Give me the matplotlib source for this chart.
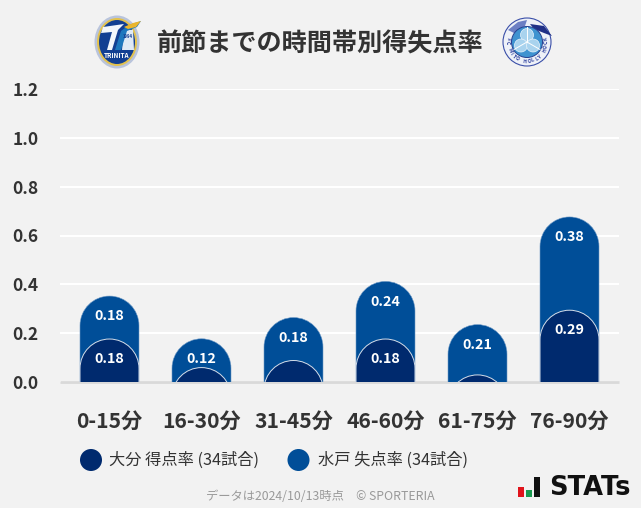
import numpy as np
import matplotlib
matplotlib.use("Agg")
import matplotlib.pyplot as plt
from matplotlib.path import Path
from matplotlib.patches import PathPatch, Circle, Ellipse, Rectangle, Polygon

plt.rcParams['font.family'] = ['Noto Sans CJK JP', 'DejaVu Sans']

# values
periods = ['0-15分', '16-30分', '31-45分', '46-60分', '61-75分', '76-90分']
oita_scored = [0.176, 0.059, 0.088, 0.176, 0.029, 0.294]
mito_conceded = [0.176, 0.118, 0.176, 0.236, 0.206, 0.382]
y_ticks = [0.0, 0.2, 0.4, 0.6, 0.8, 1.0, 1.2]

BG = '#f2f2f2'
DARK = '#002a6e'
BLUE = '#004e98'
W, H = 641, 508


def capsule(x, top, half, ry):
    # bar with a round head, runs below the baseline so the axes clip it
    k = 0.5523
    verts = [(x - half, -0.5), (x - half, top - ry),
             (x - half, top - ry + k * ry), (x - k * half, top), (x, top),
             (x + k * half, top), (x + half, top - ry + k * ry), (x + half, top - ry),
             (x + half, -0.5), (x - half, -0.5)]
    codes = [Path.MOVETO, Path.LINETO,
             Path.CURVE4, Path.CURVE4, Path.CURVE4,
             Path.CURVE4, Path.CURVE4, Path.CURVE4,
             Path.LINETO, Path.CLOSEPOLY]
    return Path(verts, codes)


fig = plt.figure(figsize=(W / 100, H / 100), dpi=100, facecolor=BG)
ax = fig.add_axes([60 / W, 1 - 382 / H, 559 / W, 293 / H], facecolor=BG)
ax.set_xlim(-0.538, 5.538)
ax.set_ylim(0, 1.2)
for s in ax.spines.values():
    s.set_visible(False)
ax.set_axisbelow(True)
ax.grid(axis='y', color='white', lw=1.5)
ax.axhline(0, color='#d9d9d9', lw=2, clip_on=False, zorder=1.5, solid_capstyle='butt')
ax.set_yticks(y_ticks)
ax.set_yticklabels([f'{v:.1f}' for v in y_ticks], fontsize=12.5, fontweight='bold', color='#333333')
ax.set_xticks(range(len(periods)))
ax.set_xticklabels(periods, fontsize=15.2, fontweight='bold', color='#333333')
ax.tick_params(axis='both', length=0)
ax.tick_params(axis='y', pad=15.5)
ax.tick_params(axis='x', pad=20.5)

half = 29.5 / 92
ry = 29.5 * 1.2 / 293
for i in range(len(periods)):
    total = oita_scored[i] + mito_conceded[i]
    ax.add_patch(PathPatch(capsule(i, total, half, ry), fc=BLUE, ec='#6f9ac6', lw=0.4, zorder=3))
    ax.add_patch(PathPatch(capsule(i, oita_scored[i], half, ry), fc=DARK, ec='#d5deea', lw=0.7, zorder=4))
    ax.annotate(f'{mito_conceded[i]:.2f}', (i, total), xytext=(0, -14.5), textcoords='offset points',
                ha='center', va='center', color='white', fontsize=10.3, fontweight='bold', zorder=5)
    if oita_scored[i] >= 0.1:
        ax.annotate(f'{oita_scored[i]:.2f}', (i, oita_scored[i]), xytext=(0, -14.5), textcoords='offset points',
                    ha='center', va='center', color='white', fontsize=10.3, fontweight='bold', zorder=5)

# everything outside the plot, placed in pixels
deco = fig.add_axes([0, 0, 1, 1], facecolor='none')
deco.set_xlim(0, W)
deco.set_ylim(H, 0)
deco.axis('off')

deco.text(320.5, 43.5, '前節までの時間帯別得失点率', ha='center', va='center',
          fontsize=18.1, fontweight='bold', color='#333333')

# legend
deco.add_patch(Circle((91, 460), 11, fc=DARK, ec='none'))
deco.text(109, 460.5, '大分 得点率 (34試合)', ha='left', va='center', fontsize=11.7, color='#333333')
deco.add_patch(Circle((298.5, 460), 11, fc=BLUE, ec='none'))
deco.text(318, 460.5, '水戸 失点率 (34試合)', ha='left', va='center', fontsize=11.7, color='#333333')

deco.text(320.5, 497, 'データは2024/10/13時点　© SPORTERIA', ha='center', va='center',
          fontsize=8.85, color='#999999')

# Oita crest
deco.add_patch(Ellipse((117, 42), 45, 53, fc='#b9c4dc', ec='none'))
deco.add_patch(Ellipse((117, 42), 40, 48, fc='#e3c24e', ec='none'))
deco.add_patch(Ellipse((117, 42), 36, 44, fc='#123f92', ec='none'))
deco.add_patch(Polygon([(124, 30), (133, 30), (134, 50), (122, 50)], fc='#dfe9f5', ec='none'))
deco.add_patch(Polygon([(103, 27), (124, 24), (118, 30), (112, 50), (107, 50), (112, 32), (101, 33)],
                       fc='#f2f6fb', ec='none'))
deco.add_patch(Polygon([(115, 50), (121, 31), (129, 25), (141, 21), (137, 27), (127, 31), (121, 50)],
                       fc='#1d77bd', ec='none'))
deco.add_patch(Polygon([(124, 27), (133, 23), (141, 21), (136, 27), (128, 29)], fc='#eab52c', ec='none'))
deco.text(128, 37, '1994', ha='center', va='center', fontsize=3, fontweight='bold', color='#123f92')
deco.text(117, 55, 'TRINITA', ha='center', va='center', fontsize=4.6, fontweight='bold', color='white')

# Mito crest
deco.add_patch(Circle((527, 42), 24, fc='#eef1f8', ec='#3a4fa8', lw=0.8))
ring_text = 'FC MITO HOLLY HOCK'
for n, ch in enumerate(ring_text):
    a = 170 + n * 200 / (len(ring_text) - 1)
    cx = 527 + 19.5 * np.cos(np.radians(a))
    cy = 42 - 19.5 * np.sin(np.radians(a))
    deco.text(cx, cy, ch, rotation=a + 90, ha='center', va='center',
              fontsize=3.6, fontweight='bold', color='#2c3f9e')
deco.add_patch(Polygon([(508, 30), (518, 22), (527, 20), (525, 26), (514, 33)], fc='#6c7fc4', ec='none'))
deco.add_patch(Polygon([(530, 24), (544, 26), (552, 36), (544, 33), (534, 29)], fc='#1f2f86', ec='none'))
deco.add_patch(Circle((527, 42), 15.5, fc='#3f93d0', ec='#27408f', lw=0.7))
for a in [90, 210, 330]:
    cx = 527 + 7 * np.cos(np.radians(a))
    cy = 42 - 7 * np.sin(np.radians(a))
    deco.add_patch(Circle((cx, cy), 6.5, fc='#a9d3ee', ec='#e8f3fb', lw=0.5))
    deco.plot([527, 527 + 15 * np.cos(np.radians(a))], [42, 42 - 15 * np.sin(np.radians(a))],
              color='white', lw=0.7)

# STATs mark
deco.add_patch(Rectangle((518, 487), 5.5, 9.5, fc='#e0141c', ec='none'))
deco.add_patch(Rectangle((526, 490), 5.5, 6.5, fc='#1a9a50', ec='none'))
deco.add_patch(Rectangle((533.5, 477), 6, 19.5, fc='#111111', ec='none'))
deco.text(549, 488, 'STATs', ha='left', va='center', fontsize=18.5, fontweight='bold',
          color='#111111', family=['DejaVu Sans'])

fig.savefig('out.png', dpi=100, facecolor=BG)
